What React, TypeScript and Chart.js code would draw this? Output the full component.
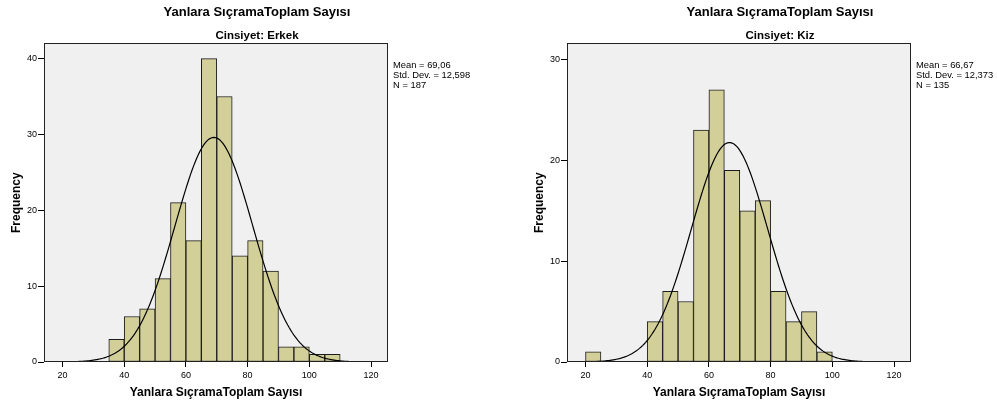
import React, { useEffect, useRef } from "react";
import { Chart, registerables } from "chart.js";

Chart.register(...registerables);

// ---------- data ----------
const MAIN_TITLE = "Yanlara SıçramaToplam Sayısı";
const X_TITLE = "Yanlara SıçramaToplam Sayısı";
const Y_TITLE = "Frequency";
const X_TICKS = [20, 40, 60, 80, 100, 120];
const BIN_WIDTH = 5;

const MALE_SUBTITLE = "Cinsiyet: Erkek";
const MALE_BIN_STARTS = [35, 40, 45, 50, 55, 60, 65, 70, 75, 80, 85, 90, 95, 100, 105];
const MALE_COUNTS = [3, 6, 7, 11, 21, 16, 40, 35, 14, 16, 12, 2, 2, 1, 1];
const MALE_MEAN = 69.06;
const MALE_SD = 12.598;
const MALE_N = 187;
const MALE_STAT_LINES = ["Mean = 69,06", "Std. Dev. = 12,598", "N = 187"];
const MALE_Y_TICKS = [0, 10, 20, 30, 40];
const MALE_Y_MAX = 42;

const FEMALE_SUBTITLE = "Cinsiyet: Kiz";
const FEMALE_BIN_STARTS = [20, 40, 45, 50, 55, 60, 65, 70, 75, 80, 85, 90, 95];
const FEMALE_COUNTS = [1, 4, 7, 6, 23, 27, 19, 15, 16, 7, 4, 5, 1];
const FEMALE_MEAN = 66.67;
const FEMALE_SD = 12.373;
const FEMALE_N = 135;
const FEMALE_STAT_LINES = ["Mean = 66,67", "Std. Dev. = 12,373", "N = 135"];
const FEMALE_Y_TICKS = [0, 10, 20, 30];
const FEMALE_Y_MAX = 31.6;

const X_MIN = 14;
const X_MAX = 125.5;
const CURVE_FROM = 20;
const CURVE_TO = 120;

const FONT = "'Liberation Sans', Arial, sans-serif";

// normal curve fitted from the displayed Mean / Std. Dev. / N
function normalCurve(mean: number, sd: number, n: number) {
  const pts: { x: number; y: number }[] = [];
  for (let x = CURVE_FROM; x <= CURVE_TO + 1e-9; x += 0.5) {
    const z = (x - mean) / sd;
    const y = (n * BIN_WIDTH) / (sd * Math.sqrt(2 * Math.PI)) * Math.exp(-0.5 * z * z);
    pts.push({ x, y });
  }
  return pts;
}

const framePlugin = {
  id: "spssFrame",
  beforeDraw(chart: any) {
    const { ctx, chartArea: a } = chart;
    ctx.save();
    ctx.fillStyle = "#f0f0f0";
    ctx.fillRect(a.left, a.top, a.right - a.left, a.bottom - a.top);
    ctx.restore();
  },
  afterDraw(chart: any, _args: any, opts: any) {
    const { ctx, chartArea: a } = chart;
    ctx.save();
    ctx.strokeStyle = "#222";
    ctx.lineWidth = 1;
    ctx.strokeRect(Math.round(a.left) + 0.5, Math.round(a.top) + 0.5, Math.round(a.right - a.left) - 1, Math.round(a.bottom - a.top) - 1);
    ctx.fillStyle = "#000";
    ctx.font = `9.4px ${FONT}`;
    ctx.textBaseline = "middle";
    ctx.textAlign = "left";
    (opts.lines || []).forEach((t: string, i: number) => {
      ctx.fillText(t, a.right + 5, a.top + 22 + i * 10);
    });
    ctx.restore();
  },
};

type PanelProps = {
  left: number;
  subtitle: string;
  binStarts: number[];
  counts: number[];
  mean: number;
  sd: number;
  n: number;
  statLines: string[];
  yTicks: number[];
  yMax: number;
};

const CANVAS_W = 514;
const CANVAS_H = 408;

function Panel(p: PanelProps) {
  const ref = useRef<HTMLCanvasElement | null>(null);
  useEffect(() => {
    if (!ref.current) return;
    const bars = p.binStarts.map((s, i) => ({ x: s + BIN_WIDTH / 2, y: p.counts[i] }));
    const chart = new Chart(ref.current, {
      type: "bar",
      data: {
        datasets: [
          {
            type: "line",
            data: normalCurve(p.mean, p.sd, p.n),
            borderColor: "#000",
            borderWidth: 1.2,
            pointRadius: 0,
            tension: 0,
            fill: false,
            order: 0,
          } as any,
          {
            type: "bar",
            data: bars,
            backgroundColor: "#d3cf98",
            borderColor: "#1c1c1c",
            borderWidth: 1,
            borderSkipped: false,
            barPercentage: 1,
            categoryPercentage: 1,
            grouped: false,
            order: 1,
          } as any,
        ],
      },
      options: {
        responsive: false,
        animation: false,
        devicePixelRatio: 1,
        events: [],
        layout: { padding: { left: 0, right: 0, top: 0, bottom: 0 } },
        plugins: {
          legend: { display: false },
          tooltip: { enabled: false },
          title: {
            display: true,
            text: MAIN_TITLE,
            color: "#000",
            font: { family: FONT, size: 13, weight: "bold" },
            padding: { top: 5, bottom: 0 },
          },
          subtitle: {
            display: true,
            text: p.subtitle,
            color: "#000",
            font: { family: FONT, size: 11.5, weight: "bold" },
            padding: { top: 8, bottom: 1 },
          },
          spssFrame: { lines: p.statLines },
        } as any,
        scales: {
          x: {
            type: "linear",
            min: X_MIN,
            max: X_MAX,
            offset: false,
            afterBuildTicks: (s: any) => {
              s.ticks = X_TICKS.map((v) => ({ value: v }));
            },
            afterFit: (s: any) => {
              s.height = 46;
            },
            ticks: {
              color: "#000",
              font: { family: FONT, size: 9 },
              padding: 3,
              maxRotation: 0,
              autoSkip: false,
            },
            grid: { display: true, drawOnChartArea: false, drawTicks: true, tickLength: 5, color: "#000", offset: false },
            border: { display: false },
            title: {
              display: true,
              text: X_TITLE,
              color: "#000",
              font: { family: FONT, size: 12, weight: "bold" },
              padding: { top: 0, bottom: 8 },
            },
          },
          y: {
            type: "linear",
            position: "left",
            min: 0,
            max: p.yMax,
            afterBuildTicks: (s: any) => {
              s.ticks = p.yTicks.map((v) => ({ value: v }));
            },
            afterFit: (s: any) => {
              s.width = 44;
            },
            ticks: {
              color: "#000",
              font: { family: FONT, size: 9 },
              padding: 1,
            },
            grid: { display: true, drawOnChartArea: false, drawTicks: true, tickLength: 6, color: "#000" },
            border: { display: false },
            title: {
              display: true,
              text: Y_TITLE,
              color: "#000",
              font: { family: FONT, size: 12, weight: "bold" },
              padding: { top: 9, bottom: 0 },
            },
          },
          // empty right-hand space that holds the statistics text
          statSpace: {
            type: "linear",
            position: "right",
            display: true,
            min: 0,
            max: 1,
            afterFit: (s: any) => {
              s.width = CANVAS_W - 388;
            },
            ticks: { display: false },
            grid: { display: false, drawTicks: false },
            border: { display: false },
            title: { display: false },
          },
        } as any,
      },
      plugins: [framePlugin as any],
    });
    return () => chart.destroy();
  }, []);
  return (
    <canvas
      ref={ref}
      width={CANVAS_W}
      height={CANVAS_H}
      style={{ position: "absolute", left: p.left, top: 0, width: CANVAS_W, height: CANVAS_H }}
    />
  );
}

export default function App() {
  return (
    <div
      style={{
        position: "fixed",
        left: 0,
        top: 0,
        width: 997,
        height: 408,
        overflow: "hidden",
        background: "#fff",
      }}
    >
      <Panel
        left={0}
        subtitle={MALE_SUBTITLE}
        binStarts={MALE_BIN_STARTS}
        counts={MALE_COUNTS}
        mean={MALE_MEAN}
        sd={MALE_SD}
        n={MALE_N}
        statLines={MALE_STAT_LINES}
        yTicks={MALE_Y_TICKS}
        yMax={MALE_Y_MAX}
      />
      <Panel
        left={523}
        subtitle={FEMALE_SUBTITLE}
        binStarts={FEMALE_BIN_STARTS}
        counts={FEMALE_COUNTS}
        mean={FEMALE_MEAN}
        sd={FEMALE_SD}
        n={FEMALE_N}
        statLines={FEMALE_STAT_LINES}
        yTicks={FEMALE_Y_TICKS}
        yMax={FEMALE_Y_MAX}
      />
    </div>
  );
}
